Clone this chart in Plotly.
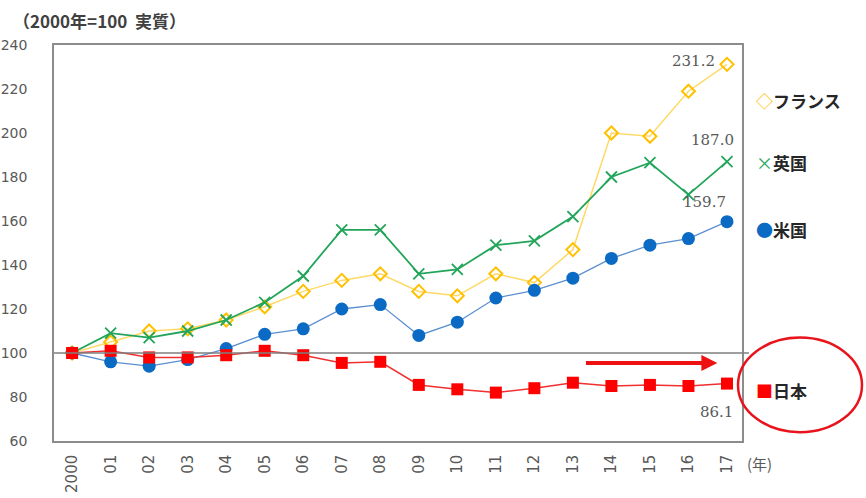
import plotly.graph_objects as go

years = ["2000", "01", "02", "03", "04", "05", "06", "07", "08", "09",
         "10", "11", "12", "13", "14", "15", "16", "17"]
france = [100, 105, 110, 111, 115, 121, 128, 133, 136, 128, 126, 136, 132, 147, 200, 198.5, 219, 231.2]
uk = [100, 109, 107, 110, 115, 123, 135, 156, 156, 136, 138, 149, 151, 162, 180, 186.5, 172, 187.0]
us = [100, 96, 94, 97, 102, 108.5, 111, 120, 122, 108, 114, 125, 128.5, 134, 143, 149, 152, 159.7]
japan = [100, 101, 98, 98, 99, 101, 99, 95.5, 96, 85.5, 83.5, 82, 84, 86.5, 85, 85.5, 85, 86.1]
yticks = [60, 80, 100, 120, 140, 160, 180, 200, 220, 240]

x = list(range(len(years)))
FONT = "Noto Sans CJK JP"
GRAY = "#595959"

fig = go.Figure()
fig.add_trace(go.Scatter(x=x, y=france, mode="lines+markers",
                         line=dict(color="#FFD966", width=1.5),
                         marker=dict(symbol="diamond-open", size=10, color="#FFC000",
                                     line=dict(width=2, color="#FFC000"))))
fig.add_trace(go.Scatter(x=x, y=uk, mode="lines+markers",
                         line=dict(color="#22A55A", width=1.8),
                         marker=dict(symbol="x-thin-open", size=11,
                                     line=dict(width=1.8, color="#22A55A"))))
fig.add_trace(go.Scatter(x=x, y=us, mode="lines+markers",
                         line=dict(color="#5B8FD0", width=1.3),
                         marker=dict(symbol="circle", size=13, color="#0B6BC4")))
fig.add_trace(go.Scatter(x=x, y=japan, mode="lines+markers",
                         line=dict(color="#F03030", width=1.5),
                         marker=dict(symbol="square", size=12, color="#FF0000")))

fig.update_layout(
    width=866, height=498,
    margin=dict(l=54, r=124, t=45, b=57, autoexpand=False),
    paper_bgcolor="white", plot_bgcolor="white",
    showlegend=False,
    font=dict(family=FONT, color=GRAY),
)
fig.update_xaxes(
    range=[-0.47, 17.39], tickmode="array", tickvals=x, ticktext=years,
    tickangle=-90, showgrid=False, zeroline=False, automargin=False,
    showline=True, linecolor="#8c8c8c", linewidth=1.5, mirror=True,
    tickfont=dict(size=15, color=GRAY, family="DejaVu Sans"),
    ticks="", ticklabelstandoff=6,
)
fig.update_yaxes(
    range=[60, 240], tickmode="array", tickvals=yticks,
    showgrid=False, zeroline=False, automargin=False,
    showline=True, linecolor="#8c8c8c", linewidth=1.5, mirror=True,
    tickfont=dict(size=14, color=GRAY, family="DejaVu Sans"),
    ticks="", ticklabelstandoff=22,
)

# baseline at 100
fig.add_shape(type="line", xref="paper", yref="y", x0=0, x1=1.01, y0=100, y1=100,
              line=dict(color="#7f7f7f", width=1.5))

# data labels
lab_font = dict(size=15, color=GRAY, family="DejaVu Serif")
fig.add_annotation(x=17, y=france[-1], text="231.2", showarrow=False, xshift=-33, yshift=3,
                   font=lab_font)
fig.add_annotation(x=17, y=uk[-1], text="187.0", showarrow=False, xshift=-14, yshift=22,
                   font=lab_font)
fig.add_annotation(x=17, y=us[-1], text="159.7", showarrow=False, xshift=-22, yshift=20,
                   font=lab_font)
fig.add_annotation(x=17, y=japan[-1], text="86.1", showarrow=False, xshift=-10, yshift=-28,
                   font=lab_font)

# title
fig.add_annotation(xref="paper", yref="paper", x=-0.062, y=1.0, yshift=39, xanchor="left",
                   yanchor="top", showarrow=False,
                   text="<b>（2000年=100  実質）</b>",
                   font=dict(size=17, color="#404040", family=FONT))
# year unit
fig.add_annotation(xref="paper", yref="paper", x=1.005, y=0, yshift=-10, xanchor="left",
                   yanchor="top", showarrow=False, text="(年)",
                   font=dict(size=15, color=GRAY, family=FONT))

# legend as annotations
leg = [(215, "#FFC000", "◇", "フランス"), (186.5, "#22A55A", "×", "英国"),
       (156, "#0B6BC4", "●", "米国"), (83, "#FF0000", "■", "日本")]
for yv, c, sym, name in leg:
    fig.add_annotation(xref="paper", yref="y", x=1.0, xshift=12, y=yv, xanchor="left",
                       showarrow=False,
                       text=f"<span style='color:{c}'>{sym}</span><b>{name}</b>",
                       font=dict(size=17, color="#262626", family=FONT))

# arrow
fig.add_annotation(x=16.75, y=95.5, ax=13.3, ay=95.5, xref="x", yref="y", axref="x", ayref="y",
                   showarrow=True, arrowhead=2, arrowsize=0.8, arrowwidth=4,
                   arrowcolor="#EE1111", text="")

# ellipse around 日本
fig.add_shape(type="circle", xref="paper", yref="y",
              x0=(738 - 54) / 688, x1=(862 - 54) / 688, y0=64, y1=107,
              line=dict(color="#E8141C", width=2.5))

fig.write_html("out.html")
